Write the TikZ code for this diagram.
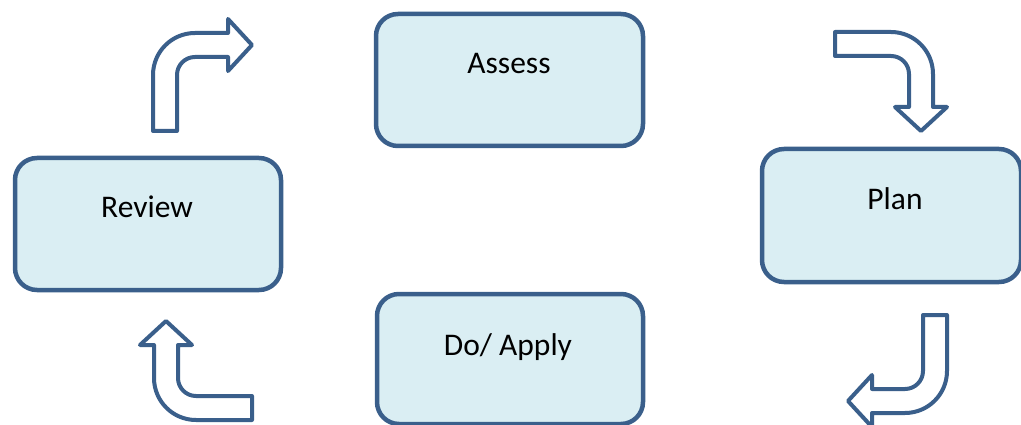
\documentclass[tikz,border=0pt]{standalone}
\usepackage{fontspec}
\setmainfont{Carlito}
\definecolor{boxfill}{HTML}{DAEEF3}
\definecolor{boxline}{HTML}{3A5F8B}
\tikzset{
  stagebox/.style={draw=boxline, fill=boxfill, line width=4.5pt, rounded corners=22pt},
  stagetext/.style={anchor=base, font=\fontsize{31.5}{36}\selectfont, text=black, inner sep=0pt},
  bentarrow/.style={draw=boxline, fill=white, line width=4pt, line join=round},
}
\newcommand{\bentshape}{%
  (0,-12) -- (56,-12) arc[start angle=-90, end angle=0, radius=42]
  -- (98,63) -- (112,63) -- (86,87) -- (60,63) -- (74,63) -- (74,30)
  arc[start angle=0, end angle=-90, radius=18] -- (0,12) -- cycle}
\begin{document}
\begin{tikzpicture}[x=1pt,y=-1pt]
\useasboundingbox (0,0) rectangle (1021,425);
\clip (0,0) rectangle (1021,425);
% boxes
\path[stagebox] (376,14) rectangle (643,146);
\node[inner sep=0pt] (assess) at (509.5,80) {};
\path[stagebox] (15,158) rectangle (281,290);
\node[inner sep=0pt] (review) at (148,224) {};
\path[stagebox] (762,149) rectangle (1021,282);
\node[inner sep=0pt] (plan) at (891,215) {};
\path[stagebox] (377,294) rectangle (643,424);
\node[inner sep=0pt] (doapply) at (510,358) {};
% texts
\node[stagetext] (assesst) at (509,74) {Assess};
\node[stagetext] (reviewt) at (147,218) {Review};
\node[stagetext] (plant) at (895,210) {Plan};
\node[stagetext] (doapplyt) at (508,355) {Do/ Apply};
% bent arrows
\coordinate (a1) at (165,131);
\coordinate (a2) at (835,44);
\coordinate (a3) at (935,315);
\coordinate (a4) at (252,408);
\begin{scope}[shift={(a1)}, rotate=90]
  \path[bentarrow] \bentshape;
\end{scope}
\begin{scope}[shift={(a2)}]
  \path[bentarrow] \bentshape;
\end{scope}
\begin{scope}[shift={(a3)}, rotate=-90]
  \path[bentarrow] \bentshape;
\end{scope}
\begin{scope}[shift={(a4)}, rotate=180]
  \path[bentarrow] \bentshape;
\end{scope}
\end{tikzpicture}
\end{document}
